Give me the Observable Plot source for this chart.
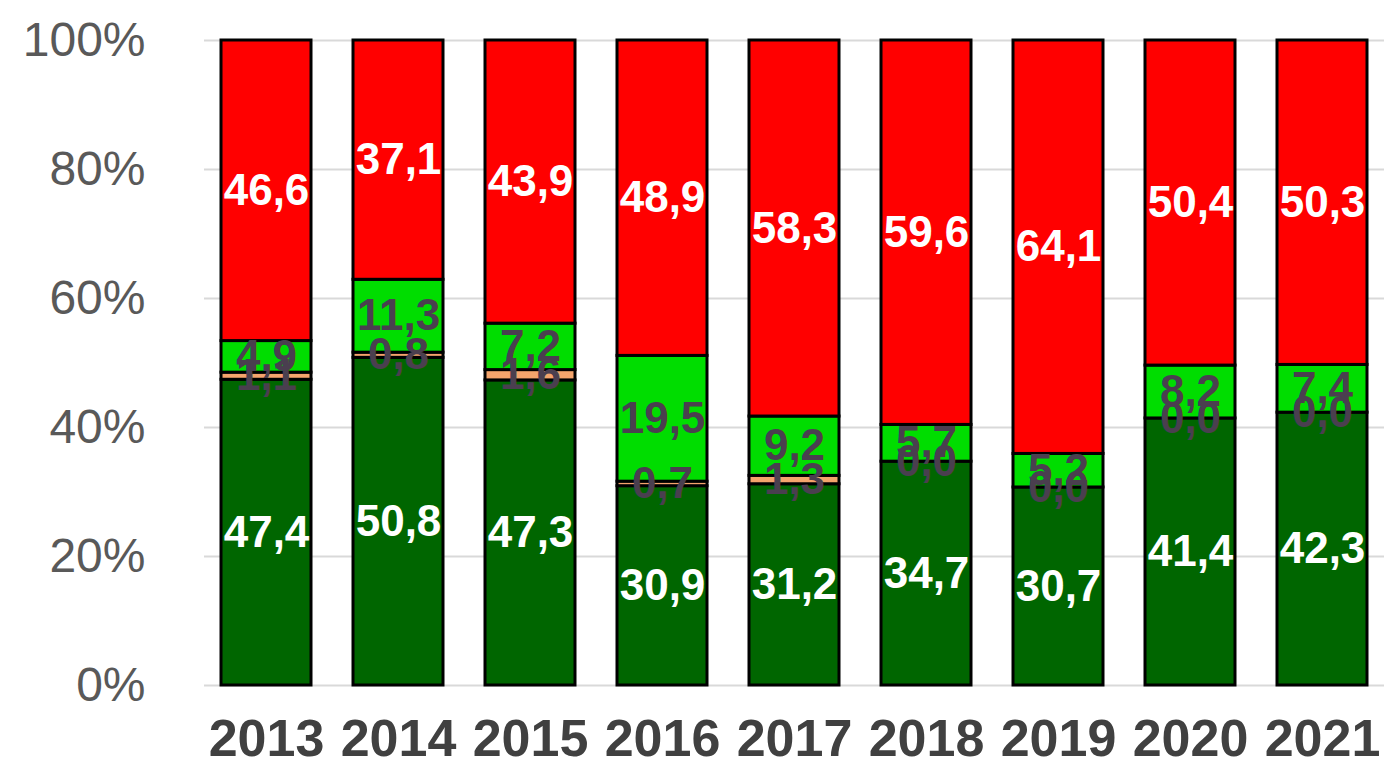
<!DOCTYPE html>
<html>
<head>
<meta charset="utf-8">
<script src="https://cdn.jsdelivr.net/npm/d3@7"></script>
<script src="https://cdn.jsdelivr.net/npm/@observablehq/plot@0.6"></script>
<style>
  html, body { margin: 0; padding: 0; background: #fff; }
  #chart svg { display: block; }
</style>
</head>
<body>
<div id="chart"></div>
<script>
const years = ["2013","2014","2015","2016","2017","2018","2019","2020","2021"];
const seriesNames = ["darkGreen","orange","lightGreen","red"];
const darkGreen = [47.4, 50.8, 47.3, 30.9, 31.2, 34.7, 30.7, 41.4, 42.3];
const orange    = [1.1, 0.8, 1.6, 0.7, 1.3, 0.0, 0.0, 0.0, 0.0];
const lightGreen= [4.9, 11.3, 7.2, 19.5, 9.2, 5.7, 5.2, 8.2, 7.4];
const red       = [46.6, 37.1, 43.9, 48.9, 58.3, 59.6, 64.1, 50.4, 50.3];
const yTicks = [0, 20, 40, 60, 80, 100];

const colors = {darkGreen: "#006600", orange: "#f4a46c", lightGreen: "#00dd00", red: "#ff0000"};
const labelColors = {darkGreen: "#ffffff", orange: "#4a3f4f", lightGreen: "#4a3f4f", red: "#ffffff"};
const seriesValues = {darkGreen, orange, lightGreen, red};

const data = [];
years.forEach((yr, i) => {
  seriesNames.forEach(s => data.push({year: yr, series: s, value: seriesValues[s][i]}));
});
const fmt = v => v.toFixed(1).replace(".", ",");

const chart = Plot.plot({
  width: 1384,
  height: 771,
  marginLeft: 204,
  marginRight: 0,
  marginTop: 40,
  marginBottom: 86,
  style: {fontFamily: "'Liberation Sans', Arial, sans-serif", background: "#fff"},
  x: {domain: years, paddingInner: 0.32, paddingOuter: 0.1055, label: null},
  y: {domain: [0, 100], label: null},
  marks: [
    Plot.gridY(yTicks, {stroke: "#d9d9d9", strokeOpacity: 1, strokeWidth: 2}),
    Plot.barY(data, {
      x: "year", y: "value", z: "series", order: seriesNames,
      fill: d => colors[d.series], stroke: "#000", strokeWidth: 3
    }),
    Plot.text(data, Plot.stackY({
      x: "year", y: "value", z: "series", order: seriesNames,
      text: d => fmt(d.value),
      fill: d => labelColors[d.series],
      fontSize: 44, fontWeight: "bold"
    })),
    Plot.axisY({ticks: yTicks, tickFormat: d => d + "%", tickSize: 0, tickPadding: 59,
      fontSize: 48, fill: "#595959", label: null}),
    Plot.axisX({tickSize: 0, tickPadding: 34, fontSize: 52, fontWeight: "bold", fill: "#404040", label: null})
  ]
});
document.getElementById("chart").appendChild(chart);
</script>
</body>
</html>
